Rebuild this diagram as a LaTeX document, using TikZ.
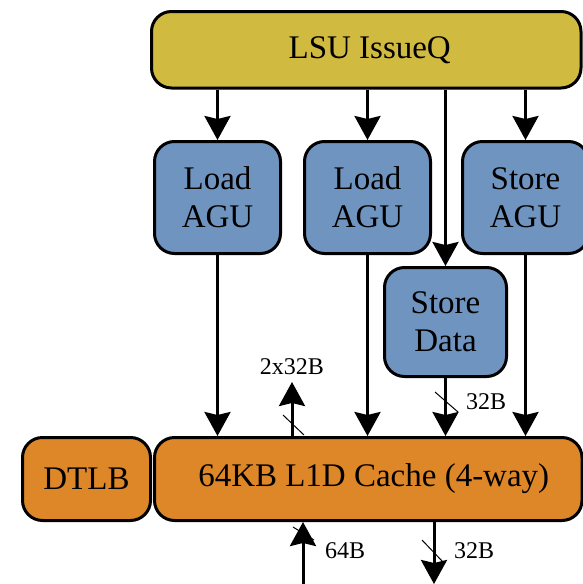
\documentclass[tikz,border=0pt]{standalone}
\usepackage{fontspec}
\setmainfont{Liberation Serif}
\usetikzlibrary{arrows.meta}
\definecolor{qgold}{RGB}{209,186,64}
\definecolor{agublue}{RGB}{112,148,192}
\definecolor{cacheorange}{RGB}{221,135,40}
\tikzset{
  box/.style={draw=black, line width=3pt, rounded corners=20pt, inner sep=0pt, align=center,
    font=\fontsize{33}{38}\selectfont},
  bluebox/.style={box, fill=agublue},
  orangebox/.style={box, fill=cacheorange},
  arr/.style={line width=3pt, -{Stealth[length=24pt,width=26pt,inset=3pt]}},
  slash/.style={line width=1pt},
  lbl/.style={font=\fontsize{24}{28}\selectfont, inner sep=0pt}
}
\begin{document}
\begin{tikzpicture}[x=1pt,y=-1pt]
\useasboundingbox (0,0) rectangle (583,584);
% boxes
\node[box, fill=qgold, minimum width=429.5pt, minimum height=76.5pt] (issueq) at (366.25,49.75) {\hspace*{7pt}LSU IssueQ};
\node[bluebox, minimum width=126pt, minimum height=112pt] (load1) at (217.5,197.5) {Load\\AGU};
\node[bluebox, minimum width=126pt, minimum height=112pt] (load2) at (367.5,197.5) {Load\\AGU};
\node[bluebox, minimum width=126pt, minimum height=112pt] (storeagu) at (525.5,197.5) {Store\\AGU};
\node[bluebox, minimum width=122pt, minimum height=109pt] (storedata) at (445.5,322) {Store\\Data};
\node[orangebox, minimum width=128pt, minimum height=83pt] (dtlb) at (86.5,479) {DTLB};
\node[orangebox, minimum width=427.5pt, minimum height=83pt] (cache) at (368.25,479) {\hspace*{11pt}64KB L1D Cache (4-way)};
% issue queue to units
\draw[arr] (load1.north |- issueq.south) -- (load1.north);
\draw[arr] (load2.north |- issueq.south) -- (load2.north);
\draw[arr] (storedata.north |- issueq.south) -- (storedata.north);
\draw[arr] (storeagu.north |- issueq.south) -- (storeagu.north);
% units to cache
\draw[arr] (load1.south) -- (load1.south |- cache.north);
\draw[arr] (load2.south) -- (load2.south |- cache.north);
\draw[arr] (storedata.south) -- (storedata.south |- cache.north);
\draw[arr] (storeagu.south) -- (storeagu.south |- cache.north);
% cache outputs / inputs
\coordinate (up2) at (292,382);
\draw[arr] (up2 |- cache.north) -- (up2);
\coordinate (in64) at (303,590);
\draw[arr] (in64) -- (in64 |- cache.south);
\coordinate (out32) at (434,584);
\draw[arr] (out32 |- cache.south) -- (out32);
% slashes
\draw[slash] (283,415) -- (304,435);
\draw[slash] (435,392) -- (458,412);
\draw[slash] (293,527) -- (314,540);
\draw[slash] (422,540) -- (443,562);
% labels
\node[lbl] (l2x32) at (292,367) {2x32B};
\node[lbl, anchor=west] (l32a) at (466,402) {32B};
\node[lbl, anchor=west] (l64) at (325,551) {64B};
\node[lbl, anchor=west] (l32b) at (454,551) {32B};
\end{tikzpicture}
\end{document}
